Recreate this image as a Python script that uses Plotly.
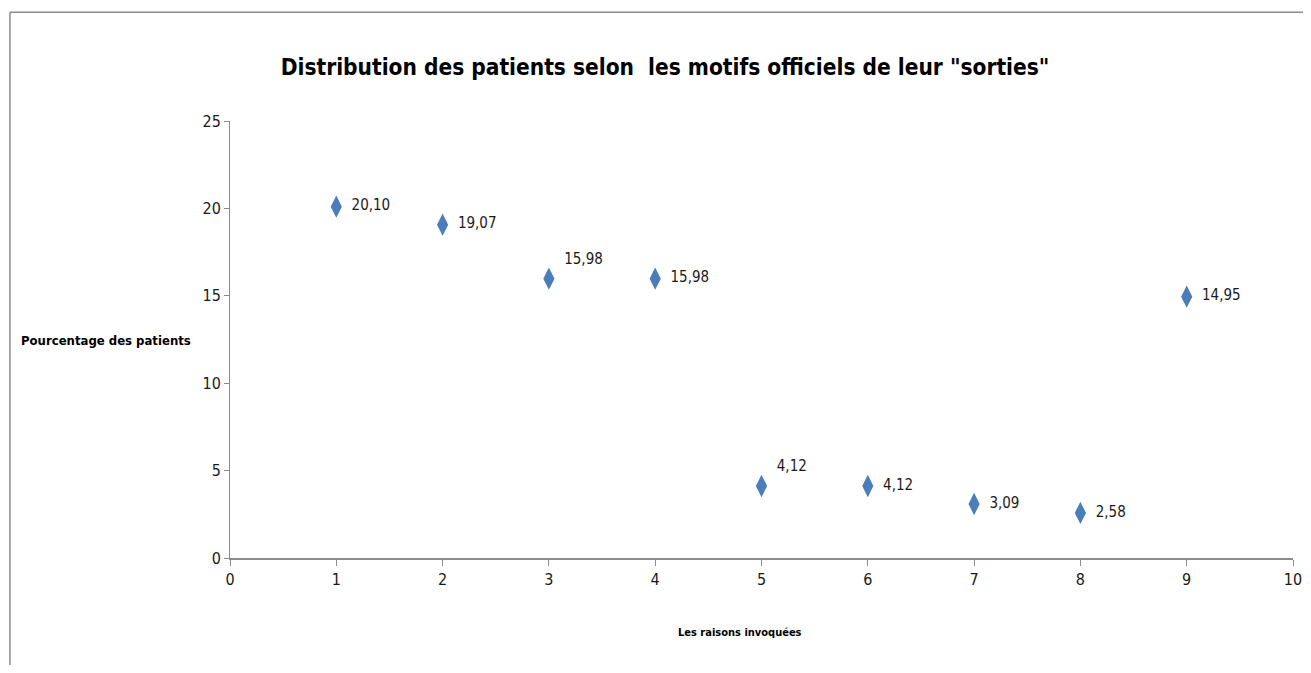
import plotly.graph_objects as go

raisons = [1, 2, 3, 4, 5, 6, 7, 8, 9]
pourcentages = [20.10, 19.07, 15.98, 15.98, 4.12, 4.12, 3.09, 2.58, 14.95]
etiquettes = ["20,10", "19,07", "15,98", "15,98", "4,12", "4,12", "3,09", "2,58", "14,95"]
positions = ["middle right", "middle right", "top right", "middle right", "top right",
             "middle right", "middle right", "middle right", "middle right"]

FONT = "DejaVu Sans Condensed, Open Sans, sans-serif"
AXIS_GRAY = "#8c8c8c"

fig = go.Figure()

fig.add_trace(go.Scatter(
    x=raisons,
    y=pourcentages,
    mode="markers+text",
    text=[" " + t for t in etiquettes],
    textposition=positions,
    textfont=dict(family=FONT, size=15, color="#1a1a1a"),
    marker=dict(symbol="diamond-tall", size=16, color="#4a7ebb"),
    showlegend=False,
    hoverinfo="x+y",
))

# la page ajoute ~8px de marge autour : figure réduite pour éviter le défilement
fig.update_layout(
    width=1295,
    height=657,
    margin=dict(l=222, r=10, t=113, b=107, autoexpand=False),
    paper_bgcolor="white",
    plot_bgcolor="white",
    font=dict(family=FONT, color="#1a1a1a"),
    title=dict(
        text="<b>Distribution des patients selon  les motifs officiels de leur \"sorties\"</b>",
        x=(665 - 8) / 1295, xanchor="center", xref="container",
        y=1 - (67 - 8) / 657, yanchor="middle",
        font=dict(family=FONT, size=22.5, color="#000000"),
    ),
    xaxis=dict(
        range=[0, 10], dtick=1, showgrid=False, zeroline=False,
        showline=True, linecolor=AXIS_GRAY, linewidth=2,
        ticks="outside", ticklen=6, tickcolor=AXIS_GRAY,
        automargin=False, ticklabeloverflow="allow",
        tickfont=dict(family=FONT, size=16, color="#1a1a1a"),
    ),
    yaxis=dict(
        range=[0, 25], dtick=5, showgrid=False, zeroline=False,
        showline=True, linecolor=AXIS_GRAY, linewidth=1,
        ticks="outside", ticklen=5, tickcolor=AXIS_GRAY,
        automargin=False,
        tickfont=dict(family=FONT, size=16, color="#1a1a1a"),
    ),
    annotations=[
        dict(text="<b>Pourcentage des patients</b>", xref="paper", yref="paper",
             x=-0.035, y=0.497, xanchor="right", yanchor="middle", showarrow=False,
             font=dict(family=FONT, size=13, color="#000000")),
        dict(text="<b>Les raisons invoquées</b>", xref="paper", yref="paper",
             x=0.48, y=-0.17, xanchor="center", yanchor="middle", showarrow=False,
             font=dict(family=FONT, size=11, color="#000000")),
    ],
    shapes=[
        dict(type="line", xref="paper", yref="paper", x0=-0.207, x1=1.02,
             y0=1.249, y1=1.249, line=dict(color="#8c8c8c", width=1.5)),
        dict(type="line", xref="paper", yref="paper", x0=-0.207, x1=-0.207,
             y0=1.249, y1=-0.27, line=dict(color="#8c8c8c", width=1.5)),
    ],
)

fig.write_html("out.html")
